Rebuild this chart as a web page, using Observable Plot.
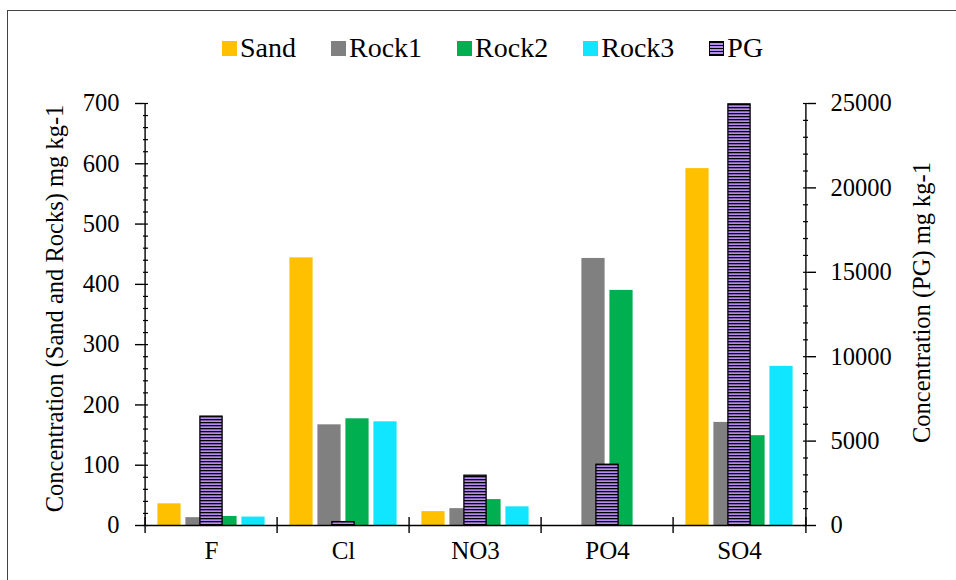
<!DOCTYPE html>
<html>
<head>
<meta charset="utf-8">
<script src="https://cdn.jsdelivr.net/npm/d3@7"></script>
<script src="https://cdn.jsdelivr.net/npm/@observablehq/plot@0.6"></script>
<style>
  html, body { margin: 0; padding: 0; background: #fff; overflow: hidden; }
  #chart { position: relative; width: 956px; height: 580px; overflow: hidden; background: #fff;
           font-family: "Liberation Serif", serif; color: #000; }
  #frame { position: absolute; left: 7px; top: 10px; width: 2000px; height: 2000px; border: 1.5px solid #444; }
  #legend { position: absolute; left: 222px; top: 29px; display: flex; align-items: center; gap: 35px; font-size: 28px; line-height: 38px; }
  .item { display: flex; align-items: center; gap: 3px; }
  .sw { width: 15px; height: 15px; box-sizing: border-box; }
  #plot { position: absolute; left: 0; top: 80px; }
</style>
</head>
<body>
<div id="chart">
  <div id="frame"></div>
  <div id="legend"></div>
  <div id="plot"></div>
</div>
<script>
// ---- data ----
const categories = ["F", "Cl", "NO3", "PO4", "SO4"];
const seriesNames = ["Sand", "Rock1", "Rock2", "Rock3"];
const sand  = [36, 444, 23, 0, 592];
const rock1 = [13, 167, 28, 443, 171];
const rock2 = [15, 177, 43, 390, 149];
const rock3 = [14, 172, 31, 0, 264];
const pgName = "PG";
const pg    = [6450, 200, 2950, 3600, 24950];
const leftTicks  = [0, 100, 200, 300, 400, 500, 600, 700];
const rightTicks = [0, 5000, 10000, 15000, 20000, 25000];
const leftTitle  = "Concentration (Sand and Rocks) mg kg-1";
const rightTitle = "Concentration (PG) mg kg-1";
const seriesColors = ["#FFC000", "#808080", "#00B050", "#10E6FF"];
const pgColor = "#B68AF2";

// ---- layout ----
const W = 956, H = 500, ML = 143, MR = 149, MT = 23, MB = 55;
const leftMax = leftTicks[leftTicks.length - 1];
const rightMax = rightTicks[rightTicks.length - 1];
const toLeft = v => v * leftMax / rightMax;      // PG value -> primary axis units
const toRight = v => Math.round(v * rightMax / leftMax);
const bw = (W - ML - MR) / categories.length;
const barW = 24, step = 28, pgW = 23;

const seriesValues = [sand, rock1, rock2, rock3];
const rows = seriesNames.flatMap((s, i) => categories.map((c, j) => ({cat: c, series: s, value: seriesValues[i][j]})));
const pgRows = categories.map((c, j) => ({cat: c, value: pg[j]}));

const seriesMarks = seriesNames.map((s, i) => {
  const left = bw / 2 + (i - 1.5) * step - barW / 2;
  return Plot.barY(rows.filter(d => d.series === s), {
    x: "cat", y: "value", fill: "series",
    insetLeft: left, insetRight: bw - left - barW
  });
});

const plot = Plot.plot({
  width: W, height: H,
  marginTop: MT, marginBottom: MB, marginLeft: ML, marginRight: MR,
  style: {fontFamily: "Liberation Serif, serif", fontSize: "24px", color: "#000", background: "transparent", overflow: "visible"},
  x: {type: "band", domain: categories, padding: 0, axis: null},
  y: {domain: [0, leftMax], axis: null},
  color: {domain: seriesNames, range: seriesColors},
  marks: [
    ...seriesMarks,
    Plot.barY(pgRows, {
      x: "cat", y: d => toLeft(d.value),
      fill: "url(#pg-stripes)", stroke: "#000", strokeWidth: 1.3,
      insetLeft: (bw - pgW) / 2, insetRight: (bw - pgW) / 2
    }),
    // axis lines
    Plot.ruleY([0], {stroke: "#000", strokeWidth: 1.4}),
    Plot.ruleX([categories[0]], {dx: -bw / 2, stroke: "#000", strokeWidth: 1.4}),
    Plot.ruleX([categories[categories.length - 1]], {dx: bw / 2, stroke: "#000", strokeWidth: 1.4}),
    // category boundary ticks
    Plot.ruleX(categories, {x: d => d, dx: -bw / 2, y1: 0, y2: 0, insetTop: -8, insetBottom: -8, stroke: "#000", strokeWidth: 1.4}),
    Plot.ruleX([categories[categories.length - 1]], {x: d => d, dx: bw / 2, y1: 0, y2: 0, insetTop: -8, insetBottom: -8, stroke: "#000", strokeWidth: 1.4}),
    // category labels
    Plot.axisX({tickSize: 0, tickPadding: 16, label: null, fontSize: 25}),
    // left axis
    Plot.axisY({anchor: "left", ticks: leftTicks, tickSize: 8, tickPadding: 16, label: null, fontSize: 24.5, strokeWidth: 1.4}),
    Plot.axisY({anchor: "left", ticks: d3.range(0, leftMax + 1, 20), tickSize: 5, dx: 5, text: null, label: null, strokeWidth: 1.2}),
    // right axis (PG)
    Plot.axisY({anchor: "right", ticks: rightTicks.map(toLeft), tickFormat: d => String(toRight(d)), tickSize: 8, tickPadding: 15, label: null, fontSize: 24.5, strokeWidth: 1.4}),
    Plot.axisY({anchor: "right", ticks: d3.range(0, rightMax + 1, 1000).map(toLeft), tickSize: 5, dx: -5, text: null, label: null, strokeWidth: 1.2}),
    // axis titles
    Plot.text([leftTitle], {frameAnchor: "left", rotate: -90, dx: -88, dy: -6, textAnchor: "middle", lineAnchor: "middle", fontSize: 24.5}),
    Plot.text([rightTitle], {frameAnchor: "right", rotate: -90, dx: 115, dy: -12, textAnchor: "middle", lineAnchor: "middle", fontSize: 24.5})
  ]
});

// stripe pattern for PG bars
const defs = d3.select(plot).insert("defs", ":first-child");
const pat = defs.append("pattern").attr("id", "pg-stripes").attr("patternUnits", "userSpaceOnUse")
  .attr("width", 6).attr("height", 3);
pat.append("rect").attr("width", 6).attr("height", 3).attr("fill", pgColor);
pat.append("rect").attr("width", 6).attr("height", 1.3).attr("fill", "#000");

document.getElementById("plot").appendChild(plot);

// legend
const legend = d3.select("#legend");
seriesNames.forEach((s, i) => {
  const it = legend.append("div").attr("class", "item");
  it.append("div").attr("class", "sw").style("background", seriesColors[i]);
  it.append("span").text(s);
});
{
  const it = legend.append("div").attr("class", "item");
  it.append("div").attr("class", "sw")
    .style("background", `repeating-linear-gradient(to bottom, #000 0 1px, ${pgColor} 1px 3px)`)
    .style("border", "1px solid #000");
  it.append("span").text(pgName);
}
</script>
</body>
</html>
